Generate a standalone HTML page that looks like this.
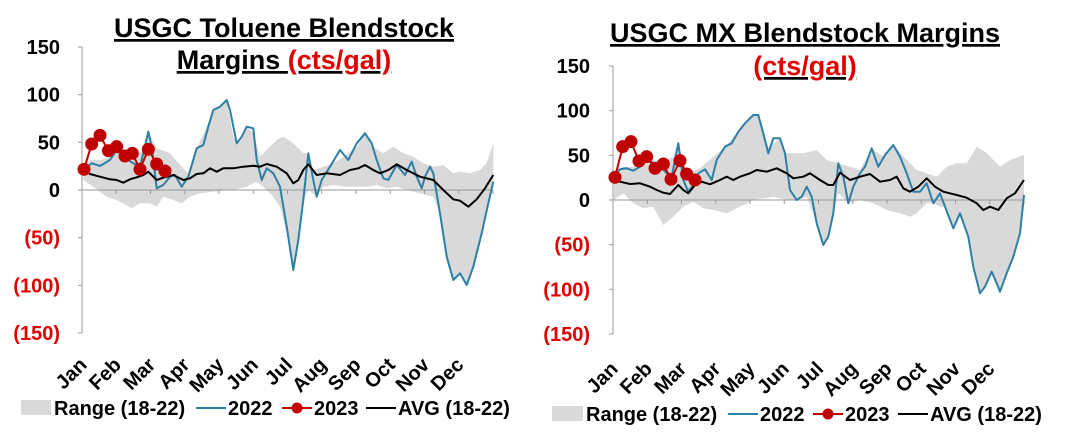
<!DOCTYPE html>
<html><head><meta charset="utf-8"><style>
html,body{margin:0;padding:0;background:#fff;}
svg{display:block;font-family:"Liberation Sans",Arial,sans-serif;font-weight:bold;}
</style></head><body>
<svg id="s" width="1080" height="433" viewBox="0 0 1080 433" xmlns="http://www.w3.org/2000/svg">
<g id="L"></g><g id="R"></g>
</svg>
<script>
const NS="http://www.w3.org/2000/svg";
function el(p,t,a,txt){const e=document.createElementNS(NS,t);for(const k in a)e.setAttribute(k,a[k]);if(txt!==undefined)e.textContent=txt;p.appendChild(e);return e;}
function pts(a,ox){return a.map(p=>(ox+p[0]/3).toFixed(1)+","+(p[1]/3).toFixed(1)).join(" ");}
function chart(g,ox,axX,endX,y150,y0,yn150,d,titleLines,labX,monthLabY,legY,leg){
  const sc=(y0-y150)/150;
  el(g,"polygon",{points:pts(d.up,ox)+" "+pts(d.lo.slice().reverse(),ox),fill:"#d9d9d9"});
  el(g,"line",{x1:axX,y1:y150,x2:axX,y2:yn150,stroke:"#999","stroke-width":1});
  el(g,"line",{x1:axX,y1:y0,x2:endX,y2:y0,stroke:"#999","stroke-width":1});
  const step=(endX-axX)/12;
  for(let v=150;v>=-150;v-=50){const y=y0-v*sc;el(g,"line",{x1:axX-4,y1:y,x2:axX,y2:y,stroke:"#999"});
    el(g,"text",{x:labX,y:y+7,"text-anchor":"end","font-size":20,fill:v<0?"#e00000":"#000"},v<0?"("+(-v)+")":String(v));}
  const M=["Jan","Feb","Mar","Apr","May","Jun","Jul","Aug","Sep","Oct","Nov","Dec"];
  for(let i=0;i<=12;i++){el(g,"line",{x1:axX+i*step,y1:y0,x2:axX+i*step,y2:y0+4,stroke:"#999"});}
  M.forEach((m,i)=>{const x=axX+i*step+6,y=monthLabY;el(g,"text",{x:x,y:y,"text-anchor":"end","font-size":20,transform:`rotate(-45 ${x} ${y})`},m);});
  el(g,"polyline",{points:pts(d.blue,ox),fill:"none",stroke:"#2e7fa6","stroke-width":2,"stroke-linejoin":"round"});
  el(g,"polyline",{points:pts(d.avg,ox),fill:"none",stroke:"#000","stroke-width":2,"stroke-linejoin":"round"});
  el(g,"polyline",{points:pts(d.red,ox),fill:"none",stroke:"#c00000","stroke-width":2});
  d.red.forEach(p=>el(g,"circle",{cx:ox+p[0]/3,cy:p[1]/3,r:6.5,fill:"#c00000"}));
  titleLines.forEach(t=>{const tx=el(g,"text",{x:t.x,y:t.y,"text-anchor":"middle","font-size":27,"text-decoration":"underline"});
    t.parts.forEach(p=>el(tx,"tspan",{fill:p[1]},p[0]));});
  const L=leg;
  el(g,"rect",{x:L[0],y:legY-15,width:L[1]-L[0],height:15,fill:"#d9d9d9"});
  el(g,"text",{x:L[1]+3,y:legY,"font-size":20},"Range (18-22)");
  el(g,"line",{x1:L[2],y1:legY-7,x2:L[2]+30,y2:legY-7,stroke:"#2e7fa6","stroke-width":2});
  el(g,"text",{x:L[2]+32,y:legY,"font-size":20},"2022");
  el(g,"line",{x1:L[3],y1:legY-7,x2:L[3]+30,y2:legY-7,stroke:"#c00000","stroke-width":2});
  el(g,"circle",{cx:L[3]+15,cy:legY-7,r:5.5,fill:"#c00000"});
  el(g,"text",{x:L[3]+32,y:legY,"font-size":20},"2023");
  el(g,"line",{x1:L[4],y1:legY-7,x2:L[4]+30,y2:legY-7,stroke:"#000","stroke-width":2});
  el(g,"text",{x:L[4]+32,y:legY,"font-size":20},"AVG (18-22)");
}
const dL={
blue:[[250,510],[275,490],[300,498],[330,480],[350,450],[370,470],[400,490],[420,500],[430,460],[445,395],[455,440],[470,565],[490,555],[510,530],[525,525],[545,560],[565,530],[590,445],[610,435],[625,380],[640,330],[660,320],[680,300],[690,330],[710,430],[725,410],[740,380],[760,385],[770,480],[785,540],[800,505],[820,520],[840,560],[860,680],[880,810],[895,720],[910,600],[925,460],[940,540],[950,590],[965,540],[990,500],[1020,450],[1045,480],[1070,430],[1095,400],[1115,430],[1130,480],[1150,535],[1165,540],[1190,495],[1215,525],[1235,485],[1250,530],[1265,565],[1275,530],[1290,500],[1300,520],[1320,640],[1340,770],[1360,840],[1380,820],[1400,855],[1420,800],[1445,700],[1465,610],[1480,545]],
up:[[250,500],[270,480],[300,480],[330,470],[360,440],[400,470],[430,450],[445,395],[470,445],[510,460],[545,500],[565,520],[590,445],[620,380],[640,330],[660,320],[680,300],[700,410],[710,430],[740,380],[760,400],[780,470],[800,450],[830,420],[850,410],[880,430],[910,460],[925,460],[940,510],[970,500],[1000,490],[1030,470],[1070,440],[1095,400],[1120,440],[1150,460],[1180,440],[1210,460],[1240,470],[1270,490],[1300,500],[1330,495],[1360,520],[1380,515],[1410,520],[1440,510],[1460,490],[1480,430]],
lo:[[250,540],[280,560],[320,590],[350,600],[370,610],[395,625],[420,610],[450,610],[470,620],[490,590],[520,600],[545,610],[570,590],[600,580],[640,575],[700,570],[740,560],[770,545],[790,560],[820,590],[840,620],[860,700],[880,810],[895,720],[910,600],[925,570],[950,590],[970,560],[1000,555],[1040,560],[1070,560],[1100,560],[1130,555],[1160,565],[1190,560],[1220,570],[1260,580],[1300,590],[1320,640],[1340,770],[1360,840],[1380,820],[1400,855],[1420,800],[1445,700],[1465,610],[1480,550]],
avg:[[250,508],[270,522],[300,530],[330,538],[350,540],[370,548],[390,538],[410,532],[430,525],[445,515],[470,540],[490,533],[520,525],[550,540],[570,535],[590,522],[610,520],[630,505],[650,515],[670,505],[700,505],[730,500],[760,497],[780,500],[800,492],[830,500],[860,520],[880,550],[895,540],[910,510],[925,493],[950,525],[980,520],[1020,525],[1050,510],[1075,505],[1095,495],[1120,510],[1140,520],[1165,510],[1190,493],[1220,510],[1260,530],[1300,540],[1330,570],[1360,598],[1380,602],[1405,620],[1430,598],[1455,565],[1480,525]],
red:[[252,508],[275,432],[300,406],[325,452],[350,440],[375,468],[397,460],[420,508],[445,448],[470,492],[495,513]]};
const dR={
blue:[[222,528],[240,508],[260,505],[280,512],[300,500],[320,480],[340,488],[360,498],[380,520],[395,530],[415,430],[430,540],[445,575],[460,555],[475,520],[495,508],[515,540],[530,480],[555,440],[575,430],[595,395],[615,370],[640,345],[655,345],[670,400],[685,460],[700,415],[720,415],[735,460],[750,570],[770,600],[785,590],[800,560],[815,590],[830,670],[850,735],[865,710],[880,640],[895,490],[910,530],[925,610],[940,560],[960,520],[975,500],[995,445],[1015,500],[1035,465],[1060,435],[1080,470],[1100,520],[1120,575],[1140,575],[1160,550],[1180,610],[1200,580],[1215,620],[1240,685],[1260,640],[1285,710],[1300,800],[1320,880],[1335,860],[1355,815],[1370,850],[1380,875],[1400,820],[1420,770],[1440,700],[1452,585]],
up:[[222,520],[250,500],[280,500],[320,470],[360,490],[400,470],[415,430],[440,520],[480,505],[520,470],[555,440],[595,395],[640,345],[655,345],[670,400],[685,440],[720,415],[735,460],[750,460],[790,460],[830,450],[860,480],[895,490],[930,500],[960,510],[995,445],[1030,470],[1060,435],[1100,480],[1130,510],[1160,520],[1190,530],[1220,500],[1250,490],[1280,490],[1310,440],[1340,460],[1380,500],[1410,480],[1452,465]],
lo:[[222,600],[250,580],[280,610],[310,625],[340,620],[370,675],[400,650],[430,620],[460,605],[490,625],[520,630],[560,640],[600,620],[640,600],[700,590],[740,600],[770,600],[800,590],[830,670],[850,735],[865,710],[880,640],[895,580],[925,610],[960,600],[1000,610],[1040,630],[1080,640],[1110,650],[1130,640],[1160,610],[1180,610],[1200,620],[1215,620],[1240,685],[1260,640],[1285,710],[1300,800],[1320,880],[1335,860],[1355,815],[1370,850],[1380,875],[1400,820],[1420,770],[1440,700],[1452,585]],
avg:[[222,525],[240,545],[270,552],[300,550],[330,560],[350,570],[370,578],[390,582],[415,555],[430,570],[445,580],[465,555],[485,545],[510,553],[540,540],[560,530],[580,540],[600,530],[630,520],[650,510],[680,515],[710,505],[740,520],[760,535],[790,530],[810,520],[840,540],[865,555],[880,555],[900,518],[930,540],[960,530],[990,522],[1020,545],[1050,540],[1070,530],[1090,565],[1110,575],[1135,560],[1160,535],[1185,560],[1210,575],[1250,585],[1280,593],[1310,610],[1330,630],[1350,620],[1375,630],[1400,595],[1425,580],[1452,540]],
red:[[225,532],[248,440],[273,425],[297,483],[320,470],[345,505],[370,492],[393,538],[420,482],[440,522],[465,540]]};
chart(document.getElementById("L"),0,82,493,47,190,333,dL,
 [{x:284,y:37,parts:[["USGC Toluene Blendstock","#000"]]},{x:284,y:69,parts:[["Margins ","#000"],["(cts/gal)","#e00000"]]}],
 60,366,415,[21,51,196,282,366]);
chart(document.getElementById("R"),540,613,1024,66,200,334,dR,
 [{x:805,y:42,parts:[["USGC MX Blendstock Margins","#000"]]},{x:805,y:75,parts:[["(cts/gal)","#e00000"]]}],
 590,370,421,[552,583,728,813,898]);
</script>
</body></html>
